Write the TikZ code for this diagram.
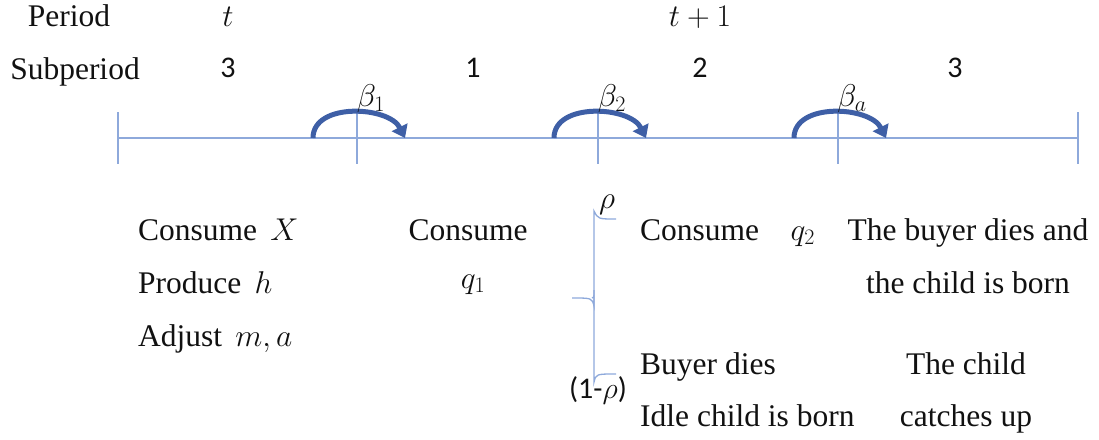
\RequirePackage{fix-cm}
\documentclass[tikz,border=0pt]{standalone}
\usepackage{fontspec}
\setmainfont{Liberation Serif}
\newfontfamily\numfont{Carlito}
\usetikzlibrary{arrows.meta,positioning}
\definecolor{tlLine}{HTML}{8EA9DB}
\definecolor{tlHop}{HTML}{3E5FA6}
\definecolor{tlInk}{HTML}{111111}
\tikzset{
  every picture/.style={font=\fontsize{31.5}{36}\selectfont, text=tlInk},
  tl line/.style={draw=tlLine, line width=1.3pt},
  tl hop/.style={draw=tlHop, line width=5pt, line cap=butt,
    -{Triangle[length=12pt,width=17pt]}},
  tl num/.style={font=\fontsize{30}{34}\selectfont\numfont},
  tl row/.style={anchor=base west, inner sep=0pt},
  tl col/.style={anchor=base, inner sep=0pt}
}
\begin{document}
\begin{tikzpicture}[x=1pt,y={(0pt,-1pt)}]
  \useasboundingbox (0,0) rectangle (1099,439);
  % header rows
  \node[tl col] (per)  at (69,27)  {Period};
  \node[tl col] (sub)  at (75,79)  {Subperiod};
  \node[tl col] (pt)   at (228,27) {$t$};
  \node[tl col] (pt1)  at (700,27) {$t+1$};
  \node[tl num,inner sep=0pt] (s3a) at (228,68) {3};
  \node[tl num,inner sep=0pt] (s1)  at (473,68) {1};
  \node[tl num,inner sep=0pt] (s2)  at (700,68) {2};
  \node[tl num,inner sep=0pt] (s3b) at (955,68) {3};
  % time line
  \coordinate (L) at (118,138);
  \coordinate (R) at (1078,138);
  \draw[tl line] (L) -- (R);
  \foreach \tx/\nm in {118/e0,357/k1,598/k2,838/k3,1078/e1}{
    \coordinate (\nm) at (\tx,138);
    \draw[tl line] (\tx,112) -- (\tx,164);
  }
  % hops between subperiods
  \foreach \nm/\lab in {k1/{\beta_1},k2/{\beta_2},k3/{\beta_a}}{
    \coordinate (\nm a) at ([xshift=-44pt]\nm);
    \coordinate (\nm b) at ([xshift=48pt]\nm);
    \draw[tl hop] (\nm a) .. controls +(0,-36) and +(-16,-32) .. (\nm b);
    \node[inner sep=0pt] (\nm lab) at ([xshift=14pt,yshift=39pt]\nm) {$\lab$};
  }
  % subperiod 3 of t
  \node[tl row] (cx) at (138,240) {Consume\, $X$};
  \node[tl row] (ph) at (138,293) {Produce\, $h$};
  \node[tl row] (am) at (138,346) {Adjust\, $m,a$};
  % subperiod 1
  \node[tl col] (c1) at (468,240) {Consume};
  \node[tl col] (q1) at (473,288) {$q_1$};
  % brace for the two outcomes
  \coordinate (bt) at (594,219);
  \coordinate (bm) at (594,298);
  \coordinate (bb) at (594,374);
  \draw[tl line] ([xshift=22pt]bt) .. controls ([xshift=4pt]bt) .. ([yshift=8pt]bt)
    -- ([yshift=-8pt]bm) .. controls ([xshift=-2pt]bm) .. ([xshift=-22pt]bm);
  \draw[tl line] ([xshift=-2pt]bm) .. controls (bm) .. ([yshift=8pt]bm)
    -- ([yshift=-8pt]bb) .. controls ([xshift=2pt]bb) .. ([xshift=22pt]bb);
  \node[inner sep=0pt] (rho) at (607,205) {$\rho$};
  \node[tl num,inner sep=0pt] (nrho) at (598,390) {(1-$\rho$)};
  % subperiods 2 and 3
  \node[tl row] (cq2) at (640,240) {Consume\quad $q_2$};
  \node[tl col] (bd1) at (968,240) {The buyer dies and};
  \node[tl col] (bd2) at (968,293) {the child is born};
  \node[tl row] (bdie) at (640,374) {Buyer dies};
  \node[tl row] (idle) at (640,426) {Idle child is born};
  \node[tl col] (ch1) at (966,374) {The child};
  \node[tl col] (ch2) at (966,426) {catches up};
\end{tikzpicture}
\end{document}
